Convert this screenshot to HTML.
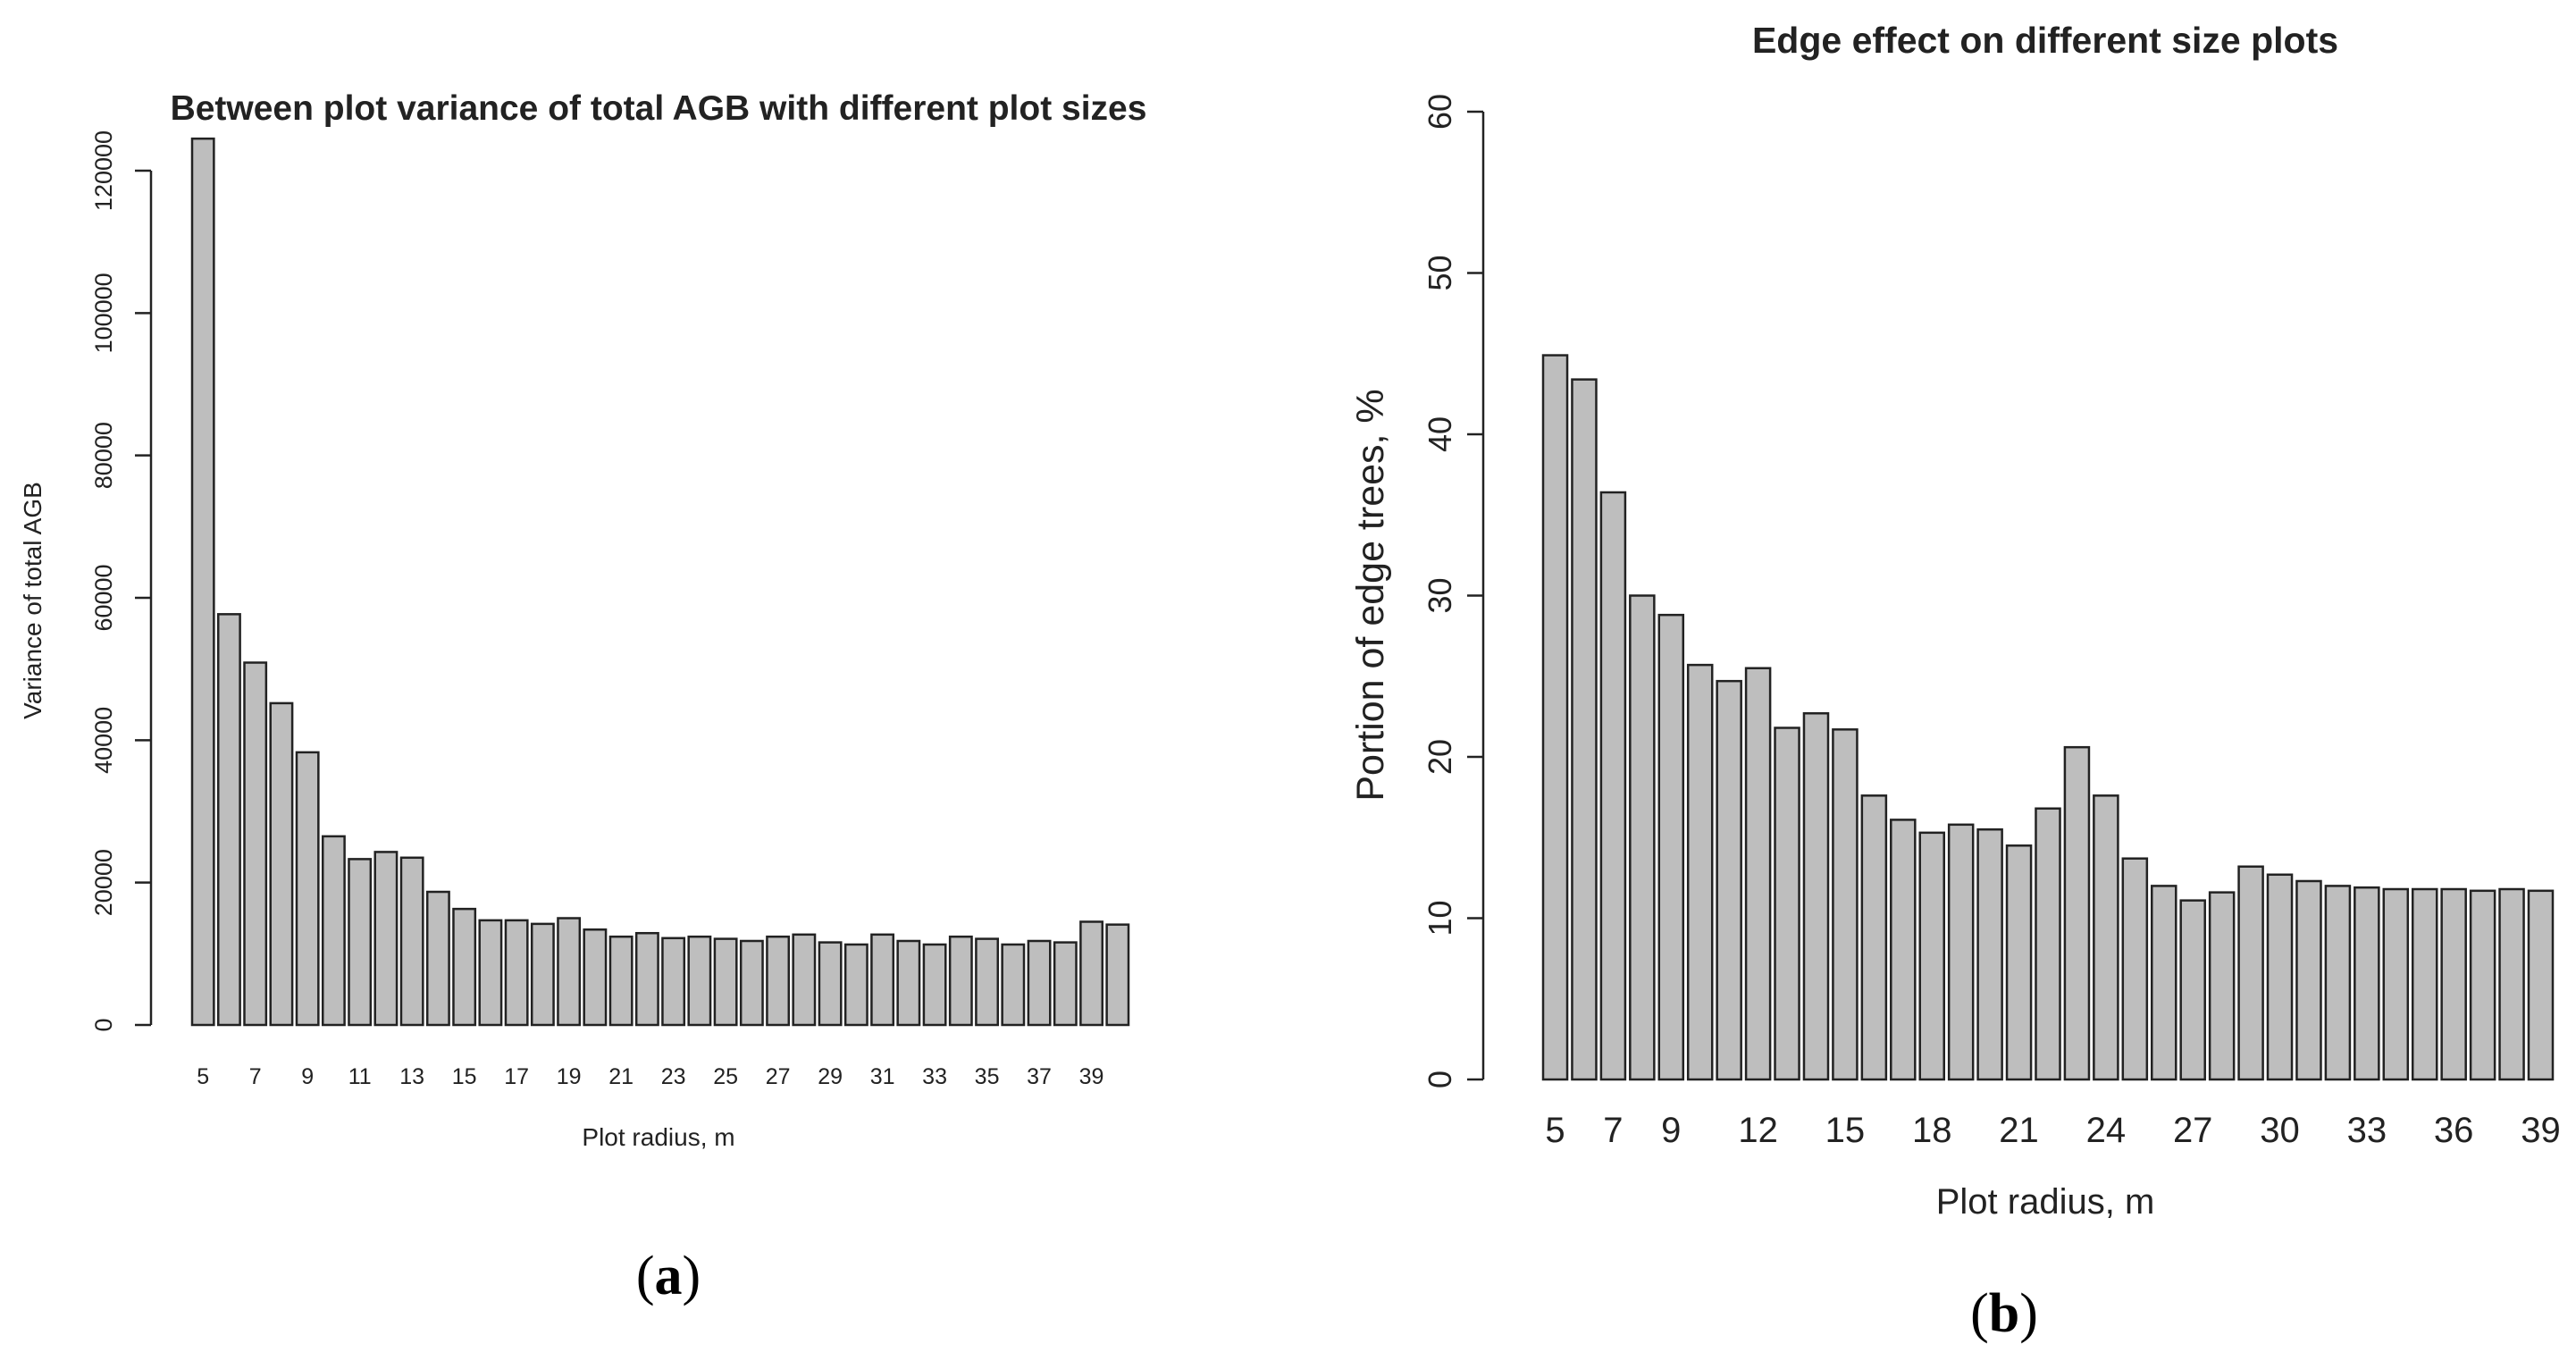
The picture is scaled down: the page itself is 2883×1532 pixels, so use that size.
<!DOCTYPE html>
<html><head><meta charset="utf-8"><style>
html,body{margin:0;padding:0;background:#fff}
svg{display:block}
text{font-family:"Liberation Sans",Arial,sans-serif;fill:#222}
</style></head><body>
<svg id="s" width="2883" height="1532" viewBox="0 0 2883 1532" xmlns="http://www.w3.org/2000/svg">
<g id="ga"></g>
<g id="gb"></g>
<text x="748" y="1448" text-anchor="middle" style="font-family:'Liberation Serif',serif;font-size:62px;fill:#000">(<tspan font-weight="bold">a</tspan>)</text>
<text x="2243" y="1490" text-anchor="middle" style="font-family:'Liberation Serif',serif;font-size:62px;fill:#000">(<tspan font-weight="bold">b</tspan>)</text>
</svg>
<script>
const radiiA = [5,6,7,8,9,10,11,12,13,14,15,16,17,18,19,20,21,22,23,24,25,26,27,28,29,30,31,32,33,34,35,36,37,38,39,40];
const valuesA = [124500,57700,50900,45200,38300,26500,23300,24300,23500,18700,16300,14700,14700,14200,15000,13400,12400,12900,12200,12400,12100,11800,12400,12700,11600,11300,12700,11800,11300,12400,12100,11300,11800,11600,14500,14100];
const ticksA = [0,20000,40000,60000,80000,100000,120000];
const xLabelsA = [5,7,9,11,13,15,17,19,21,23,25,27,29,31,33,35,37,39];
const radiiB = [5,6,7,8,9,10,11,12,13,14,15,16,17,18,19,20,21,22,23,24,25,26,27,28,29,30,31,32,33,34,35,36,37,38,39];
const valuesB = [44.9,43.4,36.4,30.0,28.8,25.7,24.7,25.5,21.8,22.7,21.7,17.6,16.1,15.3,15.8,15.5,14.5,16.8,20.6,17.6,13.7,12.0,11.1,11.6,13.2,12.7,12.3,12.0,11.9,11.8,11.8,11.8,11.7,11.8,11.7];
const ticksB = [0,10,20,30,40,50,60];
const xLabelsB = [5,7,9,12,15,18,21,24,27,30,33,36,39];

const NS="http://www.w3.org/2000/svg";
function mk(parent,tag,attrs,txt){const e=document.createElementNS(NS,tag);for(const k in attrs)e.setAttribute(k,attrs[k]);if(txt!==undefined)e.textContent=txt;parent.appendChild(e);return e;}

function draw(g,cfg,radii,vals,ticks,xl){
  const n=vals.length;
  const unit=(cfg.right-cfg.left)/(n*1.2-0.2);
  const y=v=>cfg.y0-(v-ticks[0])/(ticks[ticks.length-1]-ticks[0])*(cfg.y0-cfg.yTop);
  const bx=i=>cfg.left+i*1.2*unit;
  vals.forEach((v,i)=>{
    const r=mk(g,'rect',{x:bx(i),y:y(v),width:unit,height:cfg.y0-y(v),fill:'#bebebe',stroke:'#222','stroke-width':cfg.sw});
    
    
  });
  const ax=mk(g,'line',{x1:cfg.axisX,x2:cfg.axisX,y1:y(ticks[0]),y2:y(ticks[ticks.length-1]),stroke:'#222','stroke-width':cfg.sw});
  
  
  ticks.forEach(t=>{
    mk(g,'line',{x1:cfg.axisX-cfg.tl,x2:cfg.axisX,y1:y(t),y2:y(t),stroke:'#222','stroke-width':cfg.sw});
    const tx=mk(g,'text',{x:cfg.tickX,y:y(t),'text-anchor':'middle',transform:`rotate(-90 ${cfg.tickX} ${y(t)})`,'font-size':cfg.tfs},String(t));
    
    
  });
  xl.forEach(r=>{
    const i=radii.indexOf(r);
    const tx=mk(g,'text',{x:bx(i)+unit/2,y:cfg.xlY,'text-anchor':'middle','font-size':cfg.xfs},String(r));
    
    
  });
  const t=mk(g,'text',{x:cfg.titleX,y:cfg.titleY,'text-anchor':'middle','font-size':cfg.titleFs,'font-weight':'bold',fill:'#000'},cfg.title);
  
  
  const xt=mk(g,'text',{x:cfg.titleX,y:cfg.xtY,'text-anchor':'middle','font-size':cfg.xtFs},cfg.xTitle);
  
  
  const yt=mk(g,'text',{x:cfg.ytX,y:cfg.ytY,'text-anchor':'middle','font-size':cfg.ytFs,transform:`rotate(-90 ${cfg.ytX} ${cfg.ytY})`},cfg.yTitle);
  
  
}
draw(document.getElementById('ga'),{left:215,right:1263,y0:1147,yTop:191,axisX:169,tl:18,tickX:125,tfs:27,xlY:1213,xfs:25,sw:2.5,
  title:'Between plot variance of total AGB with different plot sizes',titleX:737,titleY:134,titleFs:39,
  xTitle:'Plot radius, m',xtY:1282,xtFs:28,yTitle:'Variance of total AGB',ytX:46,ytY:672,ytFs:28},radiiA,valuesA,ticksA,xLabelsA);
draw(document.getElementById('gb'),{left:1727,right:2857,y0:1208,yTop:125,axisX:1660,tl:18,tickX:1624,tfs:36,xlY:1278,xfs:40,sw:2.5,
  title:'Edge effect on different size plots',titleX:2289,titleY:59,titleFs:41,
  xTitle:'Plot radius, m',xtY:1358,xtFs:40,yTitle:'Portion of edge trees, %',ytX:1548,ytY:666,ytFs:43},radiiB,valuesB,ticksB,xLabelsB);
</script>
</body></html>
